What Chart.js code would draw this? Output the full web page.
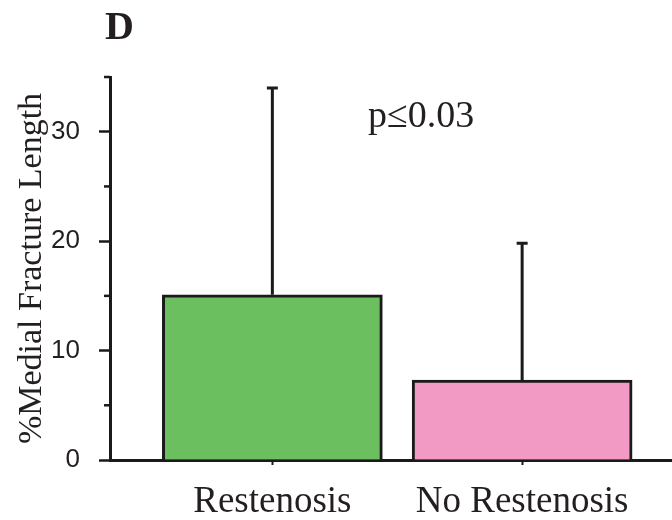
<!DOCTYPE html>
<html>
<head>
<meta charset="utf-8">
<script src="https://cdn.jsdelivr.net/npm/chart.js@4"></script>
<style>
  html, body { margin: 0; padding: 0; background: #fff; }
  #wrap { width: 672px; height: 520px; }
</style>
</head>
<body>
<div id="wrap"><canvas id="c" width="672" height="520"></canvas></div>
<script>
// Group means and upper error-bar extents (% medial fracture length)
const categories = ['Restenosis', 'No Restenosis'];
const meanValues = [15.1, 7.3];
const sdValues = [18.9, 12.5];
const barColors = ['#6cbf5e', '#f29ac4'];
const yMajorStep = 10;
const yMinorTicks = [5, 15, 25, 35];
const yMax = 35;
const panelLabel = 'D';
const pValueText = 'p\u22640.03';
const yTitle = '%Medial Fracture Length';

const ink = '#1a1a1a';
const textInk = '#231f20';
const serif = '"Liberation Serif", "Times New Roman", serif';
const sans = '"Liberation Sans", Arial, sans-serif';

// Error bars (upper only) drawn from each bar's top through the y scale
const errorBars = {
  id: 'errorBars',
  afterDatasetsDraw(chart) {
    const { ctx } = chart;
    const y = chart.scales.y;
    const meta = chart.getDatasetMeta(0);
    ctx.save();
    ctx.strokeStyle = ink;
    ctx.lineWidth = 3;
    meta.data.forEach((bar, i) => {
      const top = y.getPixelForValue(meanValues[i] + sdValues[i]);
      ctx.beginPath();
      ctx.moveTo(bar.x, bar.y);
      ctx.lineTo(bar.x, top);
      ctx.moveTo(bar.x - 5.5, top);
      ctx.lineTo(bar.x + 5.5, top);
      ctx.stroke();
    });
    ctx.restore();
  }
};

// Short minor ticks between labelled y ticks
const minorTicks = {
  id: 'minorTicks',
  afterDraw(chart) {
    const { ctx } = chart;
    const y = chart.scales.y;
    const left = chart.chartArea.left;
    ctx.save();
    ctx.strokeStyle = ink;
    ctx.lineWidth = 2.5;
    yMinorTicks.forEach(v => {
      const py = y.getPixelForValue(v);
      ctx.beginPath();
      ctx.moveTo(left - 6, py);
      ctx.lineTo(left, py);
      ctx.stroke();
    });
    ctx.restore();
  }
};

// Panel letter and significance note
const annotations = {
  id: 'annotations',
  afterDraw(chart) {
    const { ctx } = chart;
    ctx.save();
    ctx.fillStyle = textInk;
    ctx.textBaseline = 'alphabetic';
    ctx.textAlign = 'left';
    ctx.font = 'bold 40px ' + serif;
    ctx.fillText(panelLabel, 105, 39);
    ctx.font = '38px ' + serif;
    ctx.fillText(pValueText, 368, 127);
    ctx.restore();
  }
};

new Chart(document.getElementById('c'), {
  type: 'bar',
  data: {
    datasets: [{
      data: categories.map((c, i) => ({ x: i + 1, y: meanValues[i] })),
      backgroundColor: barColors,
      borderColor: ink,
      borderWidth: 3,
      barThickness: 220
    }]
  },
  options: {
    responsive: false,
    animation: false,
    devicePixelRatio: 1,
    layout: { padding: { top: 77, left: 0, right: 0, bottom: 0 } },
    plugins: { legend: { display: false }, tooltip: { enabled: false } },
    scales: {
      x: {
        type: 'linear',
        min: 0.35,
        max: 2.6,
        offset: false,
        grid: { drawOnChartArea: false, offset: false, tickLength: 5, tickColor: ink, tickWidth: 2 },
        border: { color: ink, width: 3 },
        afterBuildTicks: s => { s.ticks = categories.map((c, i) => ({ value: i + 1 })); },
        afterFit: s => { s.height = 60; },
        ticks: {
          autoSkip: false,
          maxRotation: 0,
          padding: 15,
          color: textInk,
          font: { family: serif, size: 37 },
          callback: v => categories[Math.round(v) - 1] ?? ''
        }
      },
      y: {
        min: 0,
        max: yMax,
        grid: { drawOnChartArea: false, tickLength: 11, tickColor: ink, tickWidth: 2.5 },
        border: { color: ink, width: 3 },
        afterFit: s => { s.width = 110; },
        ticks: {
          stepSize: yMajorStep,
          includeBounds: false,
          padding: 19,
          color: textInk,
          font: { family: sans, size: 26 }
        },
        title: {
          display: true,
          text: yTitle,
          color: textInk,
          font: { family: serif, size: 34 },
          padding: { top: 12, bottom: 0 }
        }
      }
    }
  },
  plugins: [errorBars, minorTicks, annotations]
});
</script>
</body>
</html>
